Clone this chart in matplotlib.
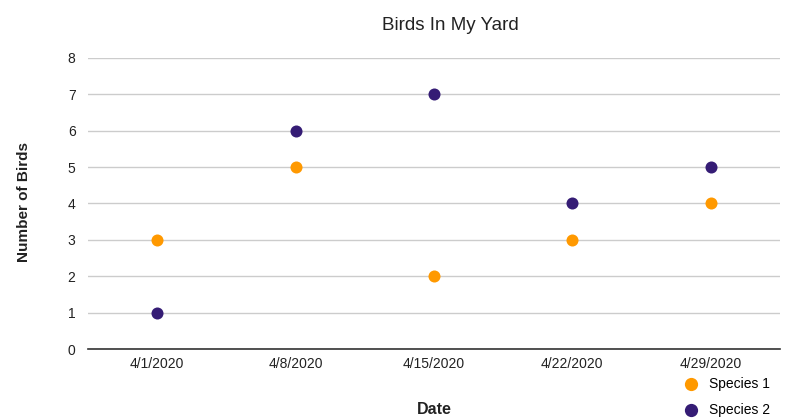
import matplotlib.pyplot as plt

plt.rcParams["font.family"] = ["Liberation Sans", "DejaVu Sans"]

# data
dates = ["4/1/2020", "4/8/2020", "4/15/2020", "4/22/2020", "4/29/2020"]
species_1 = [3, 5, 2, 3, 4]
species_2 = [1, 6, 7, 4, 5]

ORANGE = "#ff9900"
PURPLE = "#351c75"

fig = plt.figure(figsize=(7.86, 4.2), dpi=100)
ax = fig.add_axes([0.112, 0.169, 0.88, 0.693])

x = list(range(len(dates)))

ax.scatter(x, species_1, s=75, color=ORANGE, zorder=3, label="Species 1", linewidths=0)
ax.scatter(x, species_2, s=75, color=PURPLE, zorder=3, label="Species 2", linewidths=0)

ax.set_xlim(-0.5, len(dates) - 0.5)
ax.set_ylim(0, 8)
ax.set_yticks(range(0, 9))
ax.set_xticks(x)
ax.set_xticklabels(dates)
ax.tick_params(axis="both", length=0, labelsize=10, colors="#222222", pad=9)
ax.tick_params(axis="x", pad=6)

ax.grid(axis="y", color="#cccccc", linewidth=1)
ax.set_axisbelow(True)
for side in ["top", "right", "left"]:
    ax.spines[side].set_visible(False)
ax.spines["bottom"].set_color("#333333")
ax.spines["bottom"].set_linewidth(1.2)

fig.text(0.573, 0.94, "Birds In My Yard", ha="center", va="center", fontsize=13.5, color="#222222")
fig.text(0.03, 0.52, "Number of Birds", rotation=90, ha="center", va="center",
         fontsize=11, fontweight="bold", color="#222222")
fig.text(0.552, 0.025, "Date", ha="center", va="center",
         fontsize=11.5, fontweight="bold", color="#222222")

leg = fig.legend(loc="lower left", bbox_to_anchor=(0.845, -0.022), frameon=False,
                 fontsize=10, handletextpad=0.3, labelspacing=0.85,
                 markerscale=1.1)

plt.savefig("out.png", dpi=100)
